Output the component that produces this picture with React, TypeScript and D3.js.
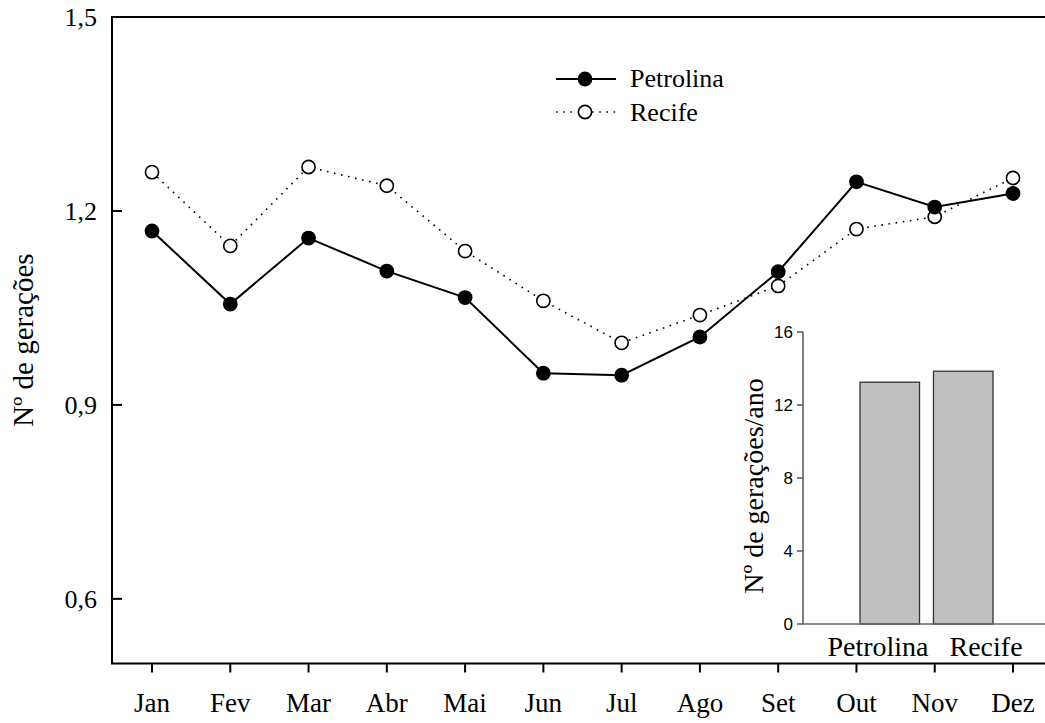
import React from "react";
import * as d3 from "d3";

const months = ["Jan", "Fev", "Mar", "Abr", "Mai", "Jun", "Jul", "Ago", "Set", "Out", "Nov", "Dez"];
const petrolina = [1.169, 1.056, 1.158, 1.107, 1.066, 0.949, 0.946, 1.005, 1.106, 1.245, 1.206, 1.227];
const recife = [1.260, 1.146, 1.268, 1.239, 1.138, 1.061, 0.996, 1.039, 1.084, 1.172, 1.191, 1.251];
const yTicks = [0.6, 0.9, 1.2, 1.5];
const insetCities = ["Petrolina", "Recife"];
const insetValues = [13.25, 13.85];
const insetTicks = [0, 4, 8, 12, 16];

const W = 1045, H = 723;
const serif = "'Liberation Serif', 'Times New Roman', serif";
const sans = "'Liberation Sans', Arial, sans-serif";

export default function App() {
  const x = d3.scaleLinear().domain([0, 11]).range([152, 1013]);
  const y = d3.scaleLinear().domain([0.5, 1.5]).range([663.5, 17]);
  const left = 112, top = 17, bottom = 663.5;

  const line = d3.line<number>().x((_, i) => x(i)).y((d) => y(d));

  const iy = d3.scaleLinear().domain([0, 16]).range([624, 332]);
  const ix = d3.scaleBand<string>().domain(insetCities).range([860, 993]).paddingInner(0.19).paddingOuter(0);
  const iLeft = 803;
  const mid = (ix("Petrolina")! + ix.bandwidth() / 2 + ix("Recife")! + ix.bandwidth() / 2) / 2;

  return (
    <svg width={W} height={H} style={{ position: "absolute", left: 0, top: 0, background: "#fff" }}>
      {/* frame */}
      <line x1={left} y1={top} x2={left} y2={bottom} stroke="#000" strokeWidth={2} />
      <line x1={left - 1} y1={top} x2={W} y2={top} stroke="#000" strokeWidth={2} />
      <line x1={left - 1} y1={bottom} x2={W} y2={bottom} stroke="#000" strokeWidth={2} />
      {/* y ticks */}
      {yTicks.map((t) => (
        <g key={t}>
          <line x1={left} x2={left + 10} y1={y(t)} y2={y(t)} stroke="#000" strokeWidth={2} />
          <text x={97} y={y(t)} dy="0.35em" textAnchor="end" fontFamily={serif} fontSize={26}>
            {d3.format(".1f")(t).replace(".", ",")}
          </text>
        </g>
      ))}
      {/* x ticks */}
      {months.map((m, i) => (
        <g key={m}>
          <line x1={x(i)} x2={x(i)} y1={bottom} y2={bottom + 9} stroke="#000" strokeWidth={2} />
          <text x={x(i)} y={712} textAnchor="middle" fontFamily={serif} fontSize={27}>
            {m}
          </text>
        </g>
      ))}
      <text transform={`translate(33,340) rotate(-90)`} textAnchor="middle" fontFamily={serif} fontSize={29}>
        Nº de gerações
      </text>

      {/* series */}
      <path d={line(recife)!} fill="none" stroke="#000" strokeWidth={1.6} strokeDasharray="1.6,5.6" />
      <path d={line(petrolina)!} fill="none" stroke="#000" strokeWidth={2} />
      {recife.map((v, i) => (
        <circle key={"r" + i} cx={x(i)} cy={y(v)} r={6.6} fill="#fff" stroke="#000" strokeWidth={1.6} />
      ))}
      {petrolina.map((v, i) => (
        <circle key={"p" + i} cx={x(i)} cy={y(v)} r={7.4} fill="#000" />
      ))}

      {/* legend */}
      <line x1={556} x2={616} y1={79} y2={79} stroke="#000" strokeWidth={2} />
      <circle cx={585} cy={79} r={7.4} fill="#000" />
      <text x={630} y={87} fontFamily={serif} fontSize={26}>Petrolina</text>
      <line x1={556} x2={616} y1={112} y2={112} stroke="#000" strokeWidth={1.6} strokeDasharray="1.6,5.6" />
      <circle cx={585} cy={112} r={6.6} fill="#fff" stroke="#000" strokeWidth={1.6} />
      <text x={630} y={121} fontFamily={serif} fontSize={26}>Recife</text>

      {/* inset */}
      <rect x={iLeft} y={300} width={W - iLeft} height={330} fill="#fff" />
      {insetCities.map((c, i) => (
        <rect key={c} x={ix(c)} y={iy(insetValues[i])} width={ix.bandwidth()} height={iy(0) - iy(insetValues[i])}
          fill="#c0c0c0" stroke="#333" strokeWidth={1.3} />
      ))}
      <line x1={iLeft} x2={iLeft} y1={iy(16)} y2={iy(0)} stroke="#555" strokeWidth={1.5} />
      <line x1={iLeft} x2={W} y1={iy(0)} y2={iy(0)} stroke="#666" strokeWidth={1.5} />
      {insetTicks.map((t) => (
        <g key={t}>
          <line x1={iLeft - 6} x2={iLeft} y1={iy(t)} y2={iy(t)} stroke="#555" strokeWidth={1.5} />
          <text x={793} y={iy(t)} dy="0.36em" textAnchor="end" fontFamily={sans} fontSize={17}>{t}</text>
        </g>
      ))}
      <text x={mid + 2} y={656} textAnchor="end" fontFamily={serif} fontSize={28}>{insetCities[0]}</text>
      <text x={mid + 23} y={656} textAnchor="start" fontFamily={serif} fontSize={28}>{insetCities[1]}</text>
      <text transform={`translate(763,486) rotate(-90)`} textAnchor="middle" fontFamily={serif} fontSize={28}>
        Nº de gerações/ano
      </text>
    </svg>
  );
}
